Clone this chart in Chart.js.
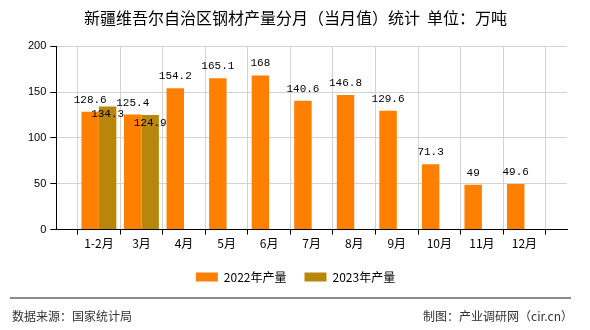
<!DOCTYPE html>
<html>
<head>
<meta charset="utf-8">
<script src="https://cdn.jsdelivr.net/npm/chart.js@4.4.1/dist/chart.umd.min.js"></script>
<style>
  html, body { margin: 0; padding: 0; background: #fff; }
  #wrap { position: relative; width: 590px; height: 330px; overflow: hidden; }
  #chart { position: absolute; left: 0; top: 0; }
  .foot-line { position: absolute; left: 10px; top: 297px; width: 561px; border-top: 2px solid #8c8c8c; }
  .foot { position: absolute; top: 309px; font: 12px/14px "Noto Sans CJK SC", sans-serif; color: #333; }
</style>
</head>
<body>
<div id="wrap">
  <canvas id="chart" width="590" height="330"></canvas>
  <div class="foot-line"></div>
  <div class="foot" style="left:12px">数据来源：国家统计局</div>
  <div class="foot" style="right:17px">制图：产业调研网（cir.cn）</div>
</div>
<script>
const months = ["1-2月", "3月", "4月", "5月", "6月", "7月", "8月", "9月", "10月", "11月", "12月"];
const output2022 = [128.6, 125.4, 154.2, 165.1, 168, 140.6, 146.8, 129.6, 71.3, 49, 49.6];
const output2023 = [134.3, 124.9, null, null, null, null, null, null, null, null, null];
const yTicks = [0, 50, 100, 150, 200];

// empty slot at each end so the months sit on the grid lines
const labels = ["", ...months, ""];
const pad = arr => [null, ...arr, null];

const labelFont = '11px "Liberation Mono", monospace';

// value labels: 2022 above the bar, 2023 drawn a bit inside the top
const valueLabels = {
  id: "valueLabels",
  afterDatasetsDraw(chart) {
    const ctx = chart.ctx;
    ctx.save();
    ctx.font = labelFont;
    ctx.fillStyle = "#000";
    ctx.textAlign = "center";
    ctx.textBaseline = "middle";
    chart.data.datasets.forEach((ds, i) => {
      const meta = chart.getDatasetMeta(i);
      meta.data.forEach((bar, j) => {
        const v = ds.data[j];
        if (v == null) return;
        const dy = i === 0 ? -12 : 8;
        ctx.fillText(String(v), bar.x, bar.y + dy);
      });
    });
    ctx.restore();
  }
};

new Chart(document.getElementById("chart"), {
  type: "bar",
  data: {
    labels: labels,
    datasets: [
      {
        label: "2022年产量",
        data: pad(output2022),
        backgroundColor: "#ff8000",
        borderWidth: 0,
        categoryPercentage: 0.82,
        barPercentage: 1
      },
      {
        label: "2023年产量",
        data: pad(output2023),
        backgroundColor: "#b8860b",
        borderWidth: 0,
        categoryPercentage: 0.82,
        barPercentage: 1
      }
    ]
  },
  options: {
    responsive: false,
    animation: false,
    layout: { padding: { left: 24, right: 23, top: 0, bottom: 37 } },
    plugins: {
      title: {
        display: true,
        text: "新疆维吾尔自治区钢材产量分月（当月值）统计  单位：万吨",
        color: "#000",
        font: { family: "Noto Sans CJK SC", size: 16, weight: "normal" },
        padding: { top: 8, bottom: 19 }
      },
      legend: {
        position: "bottom",
        labels: {
          boxWidth: 22,
          boxHeight: 9,
          padding: 18,
          color: "#000",
          font: { family: "Noto Sans CJK SC", size: 12 }
        }
      },
      tooltip: { enabled: false }
    },
    scales: {
      x: {
        offset: false,
        grid: { color: "#d3d3d3", tickColor: "#000", tickLength: 5 },
        border: { color: "#000" },
        ticks: {
          autoSkip: false,
          maxRotation: 0,
          padding: 2,
          color: "#000",
          font: { family: "Noto Sans CJK SC", size: 12 }
        }
      },
      y: {
        min: yTicks[0],
        max: yTicks[yTicks.length - 1],
        grid: { color: "#d3d3d3", tickColor: "#000", tickLength: 6 },
        border: { color: "#000" },
        afterBuildTicks: axis => { axis.ticks = yTicks.map(v => ({ value: v })); },
        ticks: {
          padding: 4,
          color: "#000",
          font: { family: "Liberation Sans", size: 11 }
        }
      }
    }
  },
  plugins: [valueLabels]
});
</script>
</body>
</html>
